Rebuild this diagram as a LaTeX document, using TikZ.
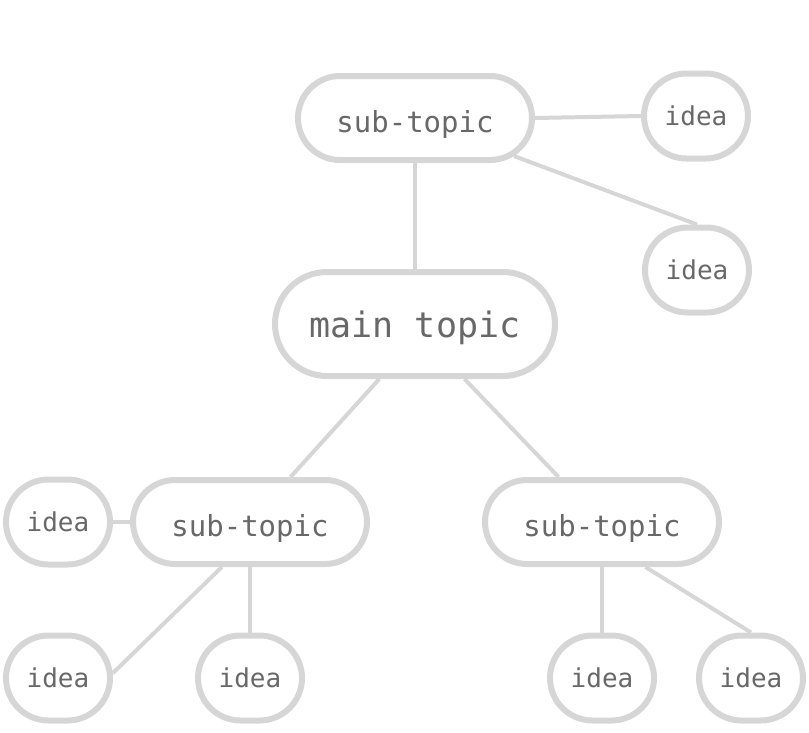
\documentclass[tikz,border=0pt]{standalone}
\usepackage{fontspec}
\setmonofont{DejaVu Sans Mono}
\usepackage{tikz}
\usetikzlibrary{shapes.misc}
\definecolor{linegray}{HTML}{D6D6D6}
\definecolor{textgray}{HTML}{686868}
\tikzset{bubble/.style={
    rounded rectangle, draw=linegray, line width=6pt, fill=white,
    text=textgray, inner sep=0pt, text depth=0pt
  },
  main topic/.style={bubble,
    minimum width=280pt, minimum height=104pt,
    font=\ttfamily\fontsize{35}{40}\selectfont
  },
  sub topic/.style={bubble,
    minimum width=234pt, minimum height=84pt, text height=29pt,
    font=\ttfamily\fontsize{29}{34}\selectfont
  },
  idea/.style={bubble,
    minimum width=104pt, minimum height=85pt,
    font=\ttfamily\fontsize{26}{30}\selectfont
  },
  link/.style={draw=linegray, line width=4pt}
}
\begin{document}
\begin{tikzpicture}[x=1pt,y=-1pt]
    \useasboundingbox (0,0) rectangle (809,732);
    % topics
    \node[main topic] (main) at (415,324) {main topic};
    \node[sub topic] (subtop) at (415,118) {sub-topic};
    \node[sub topic] (subleft) at (250,522) {sub-topic};
    \node[sub topic] (subright) at (602,522) {sub-topic};
    % ideas
    \node[idea] (ideaA) at (696,116) {idea};
    \node[idea] (ideaB) at (697,270) {idea};
    \node[idea] (ideaC) at (58,522) {idea};
    \node[idea] (ideaD) at (58,678) {idea};
    \node[idea] (ideaE) at (250,678) {idea};
    \node[idea] (ideaF) at (602,678) {idea};
    \node[idea] (ideaG) at (751,678) {idea};
    % links
    \draw[link] (subtop.south) -- (main.north);
    \draw[link] (main.237) -- (subleft.48);
    \draw[link] (main.-48) -- (subright.134);
    \draw[link] (subtop.east) -- (ideaA.west);
    \draw[link] (subtop.-21) -- (ideaB.north);
    \draw[link] (ideaC.east) -- (subleft.west);
    \draw[link] (subleft.238) -- (ideaD.5);
    \draw[link] (subleft.south) -- (ideaE.north);
    \draw[link] (subright.south) -- (ideaF.north);
    \draw[link] (subright.-46) -- (ideaG.north);
\end{tikzpicture}
\end{document}
